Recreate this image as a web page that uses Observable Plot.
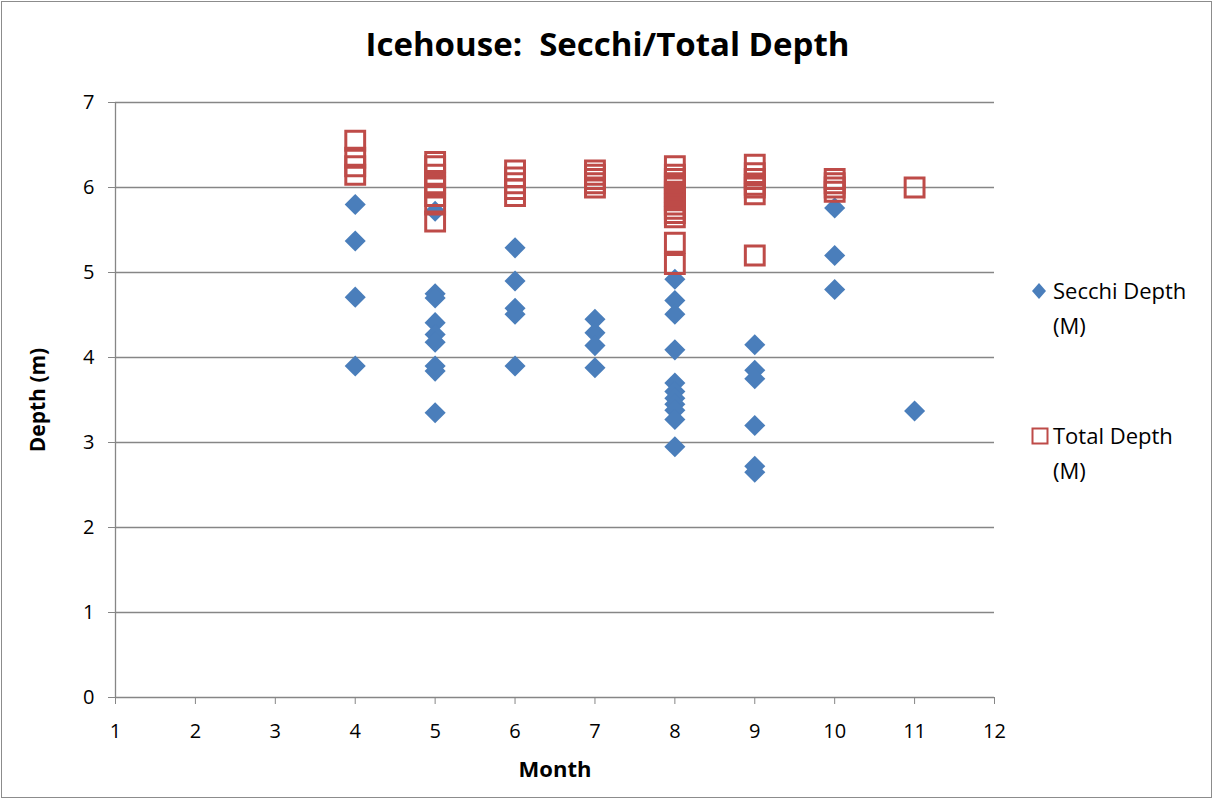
<!DOCTYPE html>
<html>
<head>
<meta charset="utf-8">
<script src="https://cdn.jsdelivr.net/npm/d3@7"></script>
<script src="https://cdn.jsdelivr.net/npm/@observablehq/plot@0.6"></script>
<style>
  html, body { margin: 0; padding: 0; background: #fff; }
  #wrap { position: relative; width: 1215px; height: 801px; font-family: "Open Sans", Lato, sans-serif; }
  #frame { position: absolute; left: 1px; top: 1px; width: 1211px; height: 797px; border: 1px solid #8c8c8c; box-sizing: border-box; pointer-events: none; }
  #title { position: absolute; left: 0; width: 1215px; top: 21px; text-align: center; font-weight: bold; font-size: 33px; color: #000; }
  #chart { position: absolute; left: 0; top: 0; }
  .leg { position: absolute; font-size: 22px; line-height: 35px; color: #000; }
  .leg svg { position: absolute; left: -22px; top: 9px; }
</style>
</head>
<body>
<div id="wrap">
  <div id="chart"></div>
  <div id="title">Icehouse:&nbsp; Secchi/Total Depth</div>
  <div class="leg" id="leg1" style="left:1053px; top:273px;">
    <svg width="16" height="18"><path d="M8,1 L15,9 L8,17 L1,9 Z" fill="#4a7ebb"/></svg>
    Secchi Depth<br>(M)
  </div>
  <div class="leg" id="leg2" style="left:1053px; top:418px;">
    <svg width="18" height="18"><rect x="1.5" y="1.5" width="15" height="15" fill="none" stroke="#be4b48" stroke-width="2"/></svg>
    Total Depth<br>(M)
  </div>
  <div id="frame"></div>
</div>
<script>
// Secchi depth observations (month, depth in m)
const secchiMonth = [4,4,4,4, 5,5,5,5,5,5,5,5,5, 6,6,6,6,6, 7,7,7,7, 8,8,8,8,8,8,8,8,8,8,8, 9,9,9,9,9,9, 10,10,10, 11];
const secchiDepth = [5.8,5.37,4.71,3.9, 5.72,4.75,4.7,4.41,4.27,4.18,3.9,3.84,3.35, 5.29,4.9,4.58,4.51,3.9, 4.45,4.29,4.14,3.88, 4.92,4.67,4.51,4.09,3.7,3.6,3.52,3.45,3.38,3.27,2.95, 4.15,3.85,3.75,3.2,2.72,2.65, 5.76,5.2,4.8, 3.37];
// Total depth observations (month, depth in m)
const totalMonth = [4,4,4,4, 5,5,5,5,5,5,5,5, 6,6,6,6,6, 7,7,7,7,7, 8,8,8,8,8,8,8,8,8,8,8,8,8,8, 9,9,9,9,9,9,9, 10,10,10,10, 11];
const totalDepth = [6.55,6.35,6.25,6.15, 6.3,6.25,6.15,6.05,6.0,5.9,5.8,5.6, 6.2,6.12,6.05,5.98,5.9, 6.2,6.15,6.1,6.05,6.0, 6.25,6.15,6.1,6.05,6.0,5.95,5.9,5.85,5.8,5.75,5.7,5.65,5.35,5.1, 6.27,6.17,6.1,6.03,6.0,5.92,5.2, 6.1,6.05,6.0,5.95, 6.0];
const xTicks = [1,2,3,4,5,6,7,8,9,10,11,12];
const yTicks = [0,1,2,3,4,5,6,7];

const secchi = secchiMonth.map((m, i) => ({month: m, depth: secchiDepth[i]}));
const total = totalMonth.map((m, i) => ({month: m, depth: totalDepth[i]}));

const axisColor = "#868686";
const chart = Plot.plot({
  width: 1215,
  height: 801,
  marginLeft: 115,
  marginRight: 221,
  marginTop: 102,
  marginBottom: 104,
  style: {fontFamily: "'Open Sans', Lato, sans-serif", fontSize: "18px", color: "#000", background: "transparent"},
  x: {domain: [1, 12], ticks: xTicks},
  y: {domain: [0, 7], ticks: yTicks},
  marks: [
    Plot.gridY(yTicks.filter(d => d > 0), {stroke: axisColor, strokeOpacity: 1, strokeWidth: 1.3}),
    Plot.ruleX([1], {stroke: axisColor, strokeWidth: 1.3}),
    Plot.ruleY([0], {stroke: axisColor, strokeWidth: 1.3}),
    Plot.axisY({ticks: yTicks, tickSize: 7, tickPadding: 14, stroke: axisColor, fontSize: 20, label: null, tickFormat: d => String(d)}),
    Plot.axisX({ticks: xTicks, tickSize: 7, tickPadding: 19, stroke: axisColor, fontSize: 20, label: null, tickFormat: d => String(d)}),
    Plot.text(["Month"], {frameAnchor: "bottom", dy: 79, fontWeight: "bold", fontSize: 22}),
    Plot.text(["Depth (m)"], {frameAnchor: "left", dx: -77, rotate: -90, textAnchor: "middle", fontWeight: "bold", fontSize: 21}),
    Plot.dot(secchi, {x: "month", y: "depth", symbol: "diamond2", r: 9.5, fill: "#4a7ebb", stroke: "none"}),
    Plot.dot(total, {x: "month", y: "depth", symbol: "square2", r: 12, fill: "none", stroke: "#be4b48", strokeWidth: 3})
  ]
});
document.getElementById("chart").appendChild(chart);
</script>
</body>
</html>
